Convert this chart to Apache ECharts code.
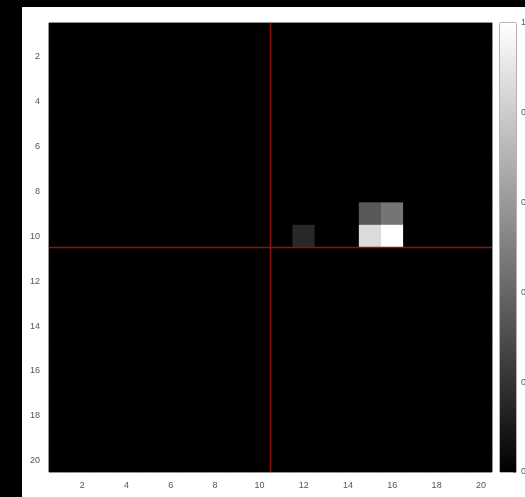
<!DOCTYPE html>
<html>
<head>
<meta charset="utf-8">
<style>
html,body{margin:0;padding:0;background:#000;}
#c{width:525px;height:497px;}
</style>
<script src="https://cdn.jsdelivr.net/npm/echarts@6/dist/echarts.min.js"></script>
</head>
<body>
<div id="c"></div>
<script>
// Categories
var xCategories = ['1','2','3','4','5','6','7','8','9','10','11','12','13','14','15','16','17','18','19','20'];
var yCategories = ['1','2','3','4','5','6','7','8','9','10','11','12','13','14','15','16','17','18','19','20'];
// Cell values: rows = y (1..20, top to bottom), cols = x (1..20)
var matrix = [
  [0,0,0,0,0,0,0,0,0,0,0,0,0,0,0,0,0,0,0,0],
  [0,0,0,0,0,0,0,0,0,0,0,0,0,0,0,0,0,0,0,0],
  [0,0,0,0,0,0,0,0,0,0,0,0,0,0,0,0,0,0,0,0],
  [0,0,0,0,0,0,0,0,0,0,0,0,0,0,0,0,0,0,0,0],
  [0,0,0,0,0,0,0,0,0,0,0,0,0,0,0,0,0,0,0,0],
  [0,0,0,0,0,0,0,0,0,0,0,0,0,0,0,0,0,0,0,0],
  [0,0,0,0,0,0,0,0,0,0,0,0,0,0,0,0,0,0,0,0],
  [0,0,0,0,0,0,0,0,0,0,0,0,0,0,0,0,0,0,0,0],
  [0,0,0,0,0,0,0,0,0,0,0,0,0,0,0.35,0.46,0,0,0,0],
  [0,0,0,0,0,0,0,0,0,0,0,0.16,0,0,0.86,1.0,0,0,0,0],
  [0,0,0,0,0,0,0,0,0,0,0,0,0,0,0,0,0,0,0,0],
  [0,0,0,0,0,0,0,0,0,0,0,0,0,0,0,0,0,0,0,0],
  [0,0,0,0,0,0,0,0,0,0,0,0,0,0,0,0,0,0,0,0],
  [0,0,0,0,0,0,0,0,0,0,0,0,0,0,0,0,0,0,0,0],
  [0,0,0,0,0,0,0,0,0,0,0,0,0,0,0,0,0,0,0,0],
  [0,0,0,0,0,0,0,0,0,0,0,0,0,0,0,0,0,0,0,0],
  [0,0,0,0,0,0,0,0,0,0,0,0,0,0,0,0,0,0,0,0],
  [0,0,0,0,0,0,0,0,0,0,0,0,0,0,0,0,0,0,0,0],
  [0,0,0,0,0,0,0,0,0,0,0,0,0,0,0,0,0,0,0,0],
  [0,0,0,0,0,0,0,0,0,0,0,0,0,0,0,0,0,0,0,0]
];
// Crosshair positions (axis units)
var crossX = 10.5;
var crossY = 10.5;
// Colorbar range and ticks
var cbMin = 0, cbMax = 1, cbStep = 0.2;

var heatData = [];
for (var r = 0; r < matrix.length; r++) {
  for (var c = 0; c < matrix[r].length; c++) {
    heatData.push([c, r, matrix[r][c]]);
  }
}

var labelStyle = {color:'#555', fontSize:9, fontFamily:'Liberation Sans, Arial, sans-serif'};
var everyOther = function(i){ return i % 2 === 1; };
var red = '#8a1212';

var chart = echarts.init(document.getElementById('c'), null, {renderer:'canvas'});
chart.setOption({
  backgroundColor:'#000',
  animation:false,
  graphic:[{type:'rect', z:-10, shape:{x:22, y:7, width:503, height:490}, style:{fill:'#fff'}}],
  grid:[
    {left:49, top:23, width:443, height:449, show:true, backgroundColor:'#000', borderColor:'#888', borderWidth:1, outerBoundsMode:'none', containLabel:false},
    {left:500, top:23, width:16, height:449, show:true, backgroundColor:'#000', borderColor:'#666', borderWidth:1, outerBoundsMode:'none', containLabel:false}
  ],
  visualMap:{show:false, min:cbMin, max:cbMax, dimension:2, seriesIndex:[0], inRange:{color:['#000000','#ffffff']}},
  xAxis:[
    {type:'category', gridIndex:0, data:xCategories, position:'bottom',
     axisLine:{show:false}, splitLine:{show:false},
     axisTick:{show:true, interval:everyOther, alignWithLabel:true, inside:true, length:3, lineStyle:{color:'#888'}},
     axisLabel:Object.assign({interval:everyOther, margin:9}, labelStyle)},
    {type:'value', gridIndex:0, min:0.5, max:20.5, show:false},
    {type:'category', gridIndex:1, data:['c'], show:false}
  ],
  yAxis:[
    {type:'category', gridIndex:0, data:yCategories, inverse:true,
     axisLine:{show:false}, splitLine:{show:false},
     axisTick:{show:true, interval:everyOther, alignWithLabel:true, inside:true, length:3, lineStyle:{color:'#888'}},
     axisLabel:Object.assign({interval:everyOther, margin:9}, labelStyle)},
    {type:'value', gridIndex:0, min:0.5, max:20.5, inverse:true, show:false},
    {type:'value', gridIndex:1, min:cbMin, max:cbMax, interval:cbStep, position:'right',
     axisLine:{show:false}, splitLine:{show:false},
     axisTick:{show:true, inside:true, length:3, lineStyle:{color:'#777'}},
     axisLabel:Object.assign({margin:5}, labelStyle)}
  ],
  series:[
    {type:'heatmap', xAxisIndex:0, yAxisIndex:0, data:heatData, itemStyle:{borderWidth:0}},
    {type:'line', xAxisIndex:1, yAxisIndex:1, data:[[crossX,0.5],[crossX,20.5]], symbol:'none',
     lineStyle:{color:red, width:1.6}, z:5},
    {type:'line', xAxisIndex:1, yAxisIndex:1, data:[[0.5,crossY],[20.5,crossY]], symbol:'none',
     lineStyle:{color:red, width:1.6}, z:5},
    {type:'bar', xAxisIndex:2, yAxisIndex:2, data:[cbMax], barWidth:'100%',
     itemStyle:{color:new echarts.graphic.LinearGradient(0,0,0,1,[{offset:0,color:'#ffffff'},{offset:1,color:'#000000'}])}}
  ]
});
</script>
</body>
</html>
